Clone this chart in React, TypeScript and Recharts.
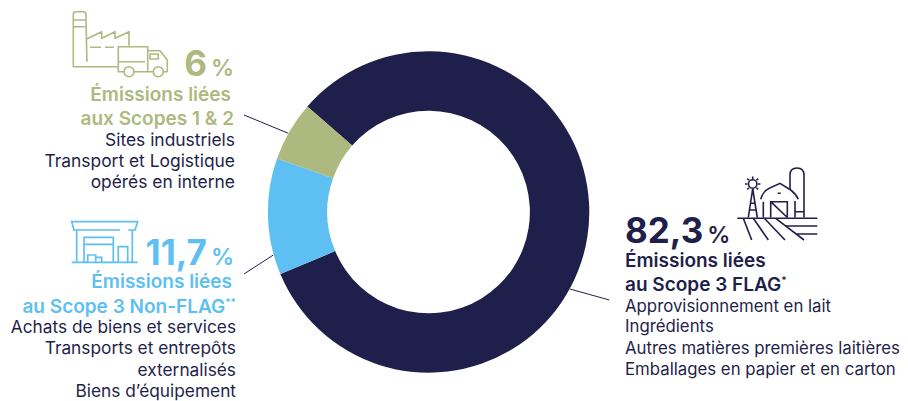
import { PieChart, Pie, Cell } from 'recharts';

const categories = ['Scope 3 FLAG', 'Scope 3 Non-FLAG', 'Scopes 1 & 2'];
const shares = [82.3, 11.7, 6];
const colors = ['#1f1f4b', '#5ec0f2', '#adb97f'];

const flagLines = [
  'Approvisionnement en lait',
  'Ingrédients',
  'Autres matières premières laitières',
  'Emballages en papier et en carton',
];
const nonFlagLines = ['Achats de biens et services', 'Transports et entrepôts', 'externalisés', 'Biens d’équipement'];
const scopeLines = ['Sites industriels', 'Transport et Logistique', 'opérés en interne'];

const chartData = categories.map((name, i) => ({ name, value: shares[i] }));

const NAVY = colors[0];
const BLUE = colors[1];
const OLIVE = colors[2];
const FONT = 'Inter, sans-serif';

const formatShare = (value: number) => String(value).replace('.', ',');

function Percent({ x, y, value, color, anchor }: { x: number; y: number; value: number; color: string; anchor: 'start' | 'end' }) {
  return (
    <text x={x} y={y} textAnchor={anchor} fill={color} fontFamily={FONT}>
      <tspan fontSize={35} fontWeight={700}>{formatShare(value)}</tspan>
      <tspan fontSize={23} fontWeight={600} dx={4}>%</tspan>
    </text>
  );
}

function Lines({ x, ys, lines, anchor, size }: { x: number; ys: number[]; lines: string[]; anchor: 'start' | 'end'; size: number }) {
  return (
    <g fontFamily={FONT} fontSize={size} fill={NAVY} textAnchor={anchor}>
      {lines.map((line, i) => (
        <text key={line} x={x} y={ys[i]}>{line}</text>
      ))}
    </g>
  );
}

function Heading({ x, y, text, color, anchor, sup }: { x: number; y: number; text: string; color: string; anchor: 'start' | 'end'; sup?: string }) {
  return (
    <text x={x} y={y} textAnchor={anchor} fill={color} fontFamily={FONT} fontSize={19} fontWeight={600}>
      {text}
      {sup && <tspan fontSize={10} dy={-7}>{sup}</tspan>}
    </text>
  );
}

function FactoryIcon() {
  return (
    <g fill="none" stroke={OLIVE} strokeWidth={1.6} strokeLinejoin="round">
      <path d="M118 66.7H73.3V14q0-2.3 2.3-2.3h8q2.3 0 2.3 2.3l1 47.7" />
      <path d="M73.6 20H85M73.6 26.7H85" />
      <path d="M86.5 39L101.7 31.7V38.3L115 31.7V38.3L129 31.7V45.7" />
      <path d="M90 47.3H101M105 47.3H114" />
      <path d="M124 71.7H118.3V46.7H147.7V71.7H134M153 71.7H134M118.3 61.7H145" />
      <path d="M147.7 50.7H160L167.3 60V71.7H163.5M150 54H158.3V59H150Z" />
      <circle cx={129} cy={71.7} r={5} />
      <circle cx={158.3} cy={71.7} r={5} />
    </g>
  );
}

function WarehouseIcon() {
  return (
    <g fill="none" stroke={BLUE} strokeWidth={1.7}>
      <path d="M120 230H74L71.7 221.7H137.7L135 230H128.3" />
      <path d="M76.7 230V262M132.3 230V262M71.7 262.3H137.7" />
      <path d="M84 262V237.3H113.3V262M84 244.3H113.3" />
      <path d="M118.3 262V246.7H127.7V262" />
      <path d="M87.7 262V255H95.7V262M95.7 257.3H101.7V262" />
    </g>
  );
}

function FarmIcon() {
  return (
    <g fill="none" stroke={NAVY} strokeWidth={1.6}>
      <path d="M790 190V175q0-7 7-7t7 7V217.5M795 211.7H804" />
      <path d="M760.7 199.3Q763 191 769.3 188.3L780 183.3L790.7 190Q796 194 798.3 199.3" />
      <path d="M763.3 201.7V217.5M795 201V217.5" />
      <path d="M770.7 217.5V201.7H787.3V217.5M770.7 201.7L787.3 217.5M777.7 193.3H780.7" />
      <path d="M737.3 218.3H817.3M785 226H817.3M796.7 234H817.3" />
      <path d="M743.3 218.3L751.7 240M753.3 218.3L768.3 240M764.3 218.3L785 240M775.7 218.3L804 240" />
      <circle cx={752.7} cy={184} r={4.2} />
      <path d="M752.7 176.5V179M752.7 189V191.5M745 184H747.5M757.9 184H760.4M747.3 178.6L749 180.3M756.4 187.7L758.1 189.4M758.1 178.6L756.4 180.3M749 187.7L747.3 189.4" />
      <path d="M752.7 189L748.3 217.5M752.7 189L757.3 217.5M750 203.3H755.4M749 210H756.4" />
    </g>
  );
}

export default function App() {
  return (
    <div style={{ position: 'absolute', left: 0, top: 0, width: 908, height: 401 }}>
      <PieChart width={908} height={401} margin={{ top: 0, right: 0, bottom: 0, left: 0 }}>
        <Pie
          data={chartData}
          dataKey="value"
          nameKey="name"
          cx={428.6}
          cy={212}
          innerRadius={101.3}
          outerRadius={160.7}
          startAngle={139}
          endAngle={-221}
          stroke="none"
          isAnimationActive={false}
        >
          {chartData.map((d, i) => (
            <Cell key={d.name} fill={colors[i]} />
          ))}
        </Pie>

        {/* leader lines */}
        <g stroke={NAVY} strokeWidth={1}>
          <line x1={244} y1={115} x2={288.3} y2={133.3} />
          <line x1={244} y1={274} x2={273.3} y2={255} />
          <line x1={570} y1={289} x2={609.3} y2={300} />
        </g>

        <FactoryIcon />
        <Percent x={234} y={76} value={shares[2]} color={OLIVE} anchor="end" />
        <Heading x={231} y={100.6} text="Émissions liées" color={OLIVE} anchor="end" />
        <Heading x={234} y={125} text="aux Scopes 1 & 2" color={OLIVE} anchor="end" />
        <Lines x={235} ys={[145.7, 166.7, 188]} lines={scopeLines} anchor="end" size={17.4} />

        <WarehouseIcon />
        <Percent x={234} y={265} value={shares[1]} color={BLUE} anchor="end" />
        <Heading x={232} y={288} text="Émissions liées" color={BLUE} anchor="end" />
        <Heading x={236} y={312.7} text="au Scope 3 Non-FLAG" sup="**" color={BLUE} anchor="end" />
        <Lines x={236} ys={[333, 354, 375.7, 396.7]} lines={nonFlagLines} anchor="end" size={17.3} />

        <FarmIcon />
        <Percent x={625} y={243} value={shares[0]} color={NAVY} anchor="start" />
        <Heading x={625} y={266.7} text="Émissions liées" color={NAVY} anchor="start" />
        <Heading x={625} y={290.7} text="au Scope 3 FLAG" sup="*" color={NAVY} anchor="start" />
        <Lines x={625} ys={[311.7, 331.7, 354.3, 375]} lines={flagLines} anchor="start" size={16.8} />
      </PieChart>
    </div>
  );
}
